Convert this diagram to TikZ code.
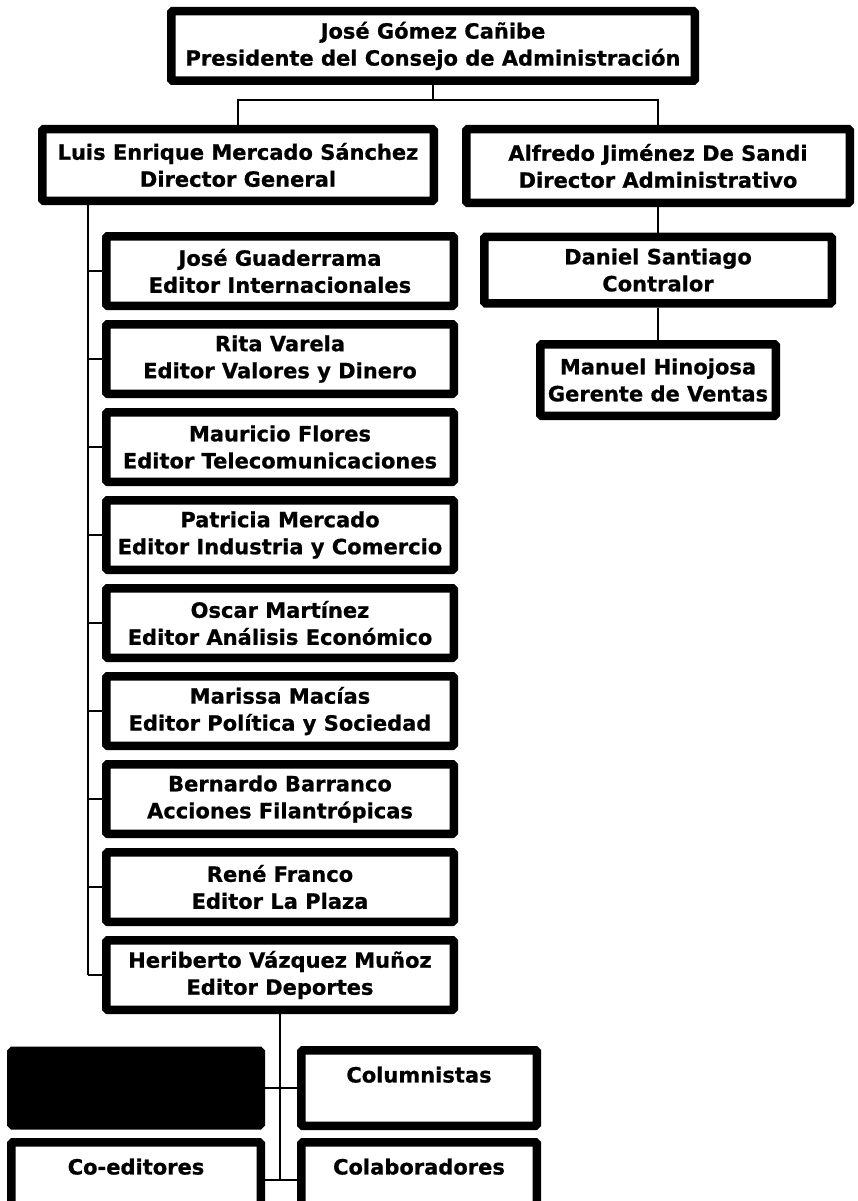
\documentclass[tikz,border=0pt]{standalone}
\usepackage{fontspec}
\newfontfamily\boxfont{DejaVu Sans}[BoldFeatures={FakeBold=0.8}]
\begin{document}
\begin{tikzpicture}[x=1pt,y=-1pt,
  box/.style={draw, line width=8.5pt, rounded corners=1.5pt, fill=white, align=center, inner sep=0pt,
    font=\boxfont\bfseries\fontsize{21}{27}\selectfont},
  ed/.style={box, minimum width=347.5pt, minimum height=69.5pt},
  conn/.style={line width=2.5pt}]
\useasboundingbox (0,0) rectangle (857,1201);
\clip (0,0) rectangle (857,1201);
\fill[white] (0,0) rectangle (857,1201);
% top levels
\node[box, minimum width=523.5pt, minimum height=69.5pt] (top) at (433,46)
  {José Gómez Cañibe\\Presidente del Consejo de Administración};
\node[box, minimum width=391.5pt, minimum height=71.5pt] (dg) at (238,165)
  {Luis Enrique Mercado Sánchez\\Director General};
\node[box, minimum width=383.5pt, minimum height=73.5pt] (da) at (658,166)
  {Alfredo Jiménez De Sandi\\Director Administrativo};
\node[box, minimum width=347.5pt, minimum height=66.5pt] (ds) at (658,270)
  {Daniel Santiago\\Contralor};
\node[box, minimum width=235.5pt, minimum height=71.5pt] (mh) at (658,380)
  {Manuel Hinojosa\\Gerente de Ventas};
% editors
\node[ed] (e1) at (280,271) {José Guaderrama\\Editor Internacionales};
\node[ed] (e2) at (280,359) {Rita Varela\\Editor Valores y Dinero};
\node[ed] (e3) at (280,447) {Mauricio Flores\\Editor Telecomunicaciones};
\node[ed] (e4) at (280,535) {Patricia Mercado\\Editor Industria y Comercio};
\node[ed] (e5) at (280,623) {Oscar Martínez\\Editor Análisis Económico};
\node[ed] (e6) at (280,711) {Marissa Macías\\Editor Política y Sociedad};
\node[ed] (e7) at (280,799) {Bernardo Barranco\\Acciones Filantrópicas};
\node[ed] (e8) at (280,887) {René Franco\\Editor La Plaza};
\node[ed] (e9) at (280,975) {Heriberto Vázquez Muñoz\\Editor Deportes};
% bottom
\node[box, fill=black, minimum width=249.5pt, minimum height=74.5pt] (blk) at (136,1088) {};
\node[box, minimum width=235.5pt, minimum height=75.5pt] (colum) at (419,1088) {Columnistas\\\mbox{}};
\node[box, minimum width=249.5pt, minimum height=75.5pt] (coed) at (136,1180) {Co-editores\\\mbox{}};
\node[box, minimum width=235.5pt, minimum height=75.5pt] (colab) at (419,1180) {Colaboradores\\\mbox{}};
% connectors
\coordinate (j) at (431,100);
\coordinate (sp) at (88,0);
\draw[conn] (top.south) -- (top.south |- j);
\draw[conn] (dg.north) |- (da.north |- j) -- (da.north);
\draw[conn] (da.south) -- (ds.north);
\draw[conn] (ds.south) -- (mh.north);
\draw[conn] (dg.south -| sp) -- (e9.west -| sp);
\foreach \e in {e1,e2,e3,e4,e5,e6,e7,e8,e9}
  \draw[conn] (\e.west -| sp) -- (\e.west);
\draw[conn] (e9.south) -- (e9.south |- coed.east);
\draw[conn] (blk.east) -- (colum.west);
\draw[conn] (coed.east) -- (colab.west);
\end{tikzpicture}
\end{document}
